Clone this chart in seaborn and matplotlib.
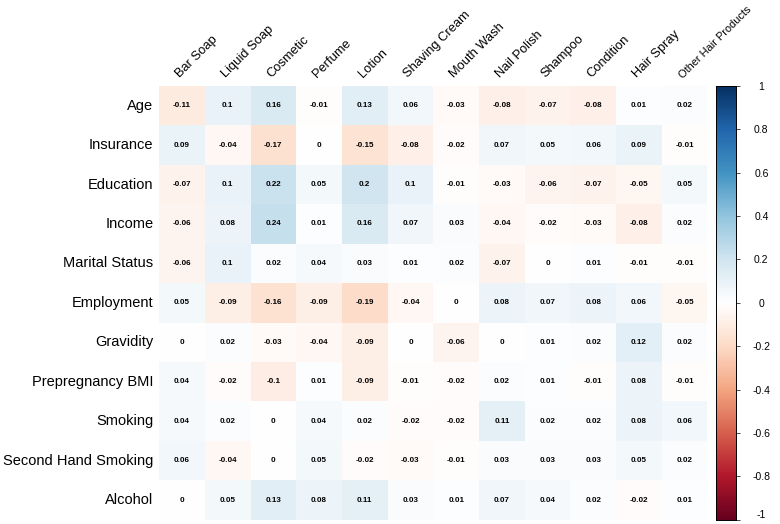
"""
Correlation heatmap: maternal characteristics vs personal care product use.
"""
import matplotlib
matplotlib.use("Agg")
import matplotlib.pyplot as plt
from matplotlib.colors import LinearSegmentedColormap
import seaborn as sns
import pandas as pd

# Row / column categories
row_labels = ["Age", "Insurance", "Education", "Income", "Marital Status",
              "Employment", "Gravidity", "Prepregnancy BMI", "Smoking",
              "Second Hand Smoking", "Alcohol"]
col_labels = ["Bar Soap", "Liquid Soap", "Cosmetic", "Perfume", "Lotion",
              "Shaving Cream", "Mouth Wash", "Nail Polish", "Shampoo",
              "Condition", "Hair Spray", "Other Hair Products"]

# Correlation values, one list per row
age = [-0.11, 0.1, 0.16, -0.01, 0.13, 0.06, -0.03, -0.08, -0.07, -0.08, 0.01, 0.02]
insurance = [0.09, -0.04, -0.17, 0, -0.15, -0.08, -0.02, 0.07, 0.05, 0.06, 0.09, -0.01]
education = [-0.07, 0.1, 0.22, 0.05, 0.2, 0.1, -0.01, -0.03, -0.06, -0.07, -0.05, 0.05]
income = [-0.06, 0.08, 0.24, 0.01, 0.16, 0.07, 0.03, -0.04, -0.02, -0.03, -0.08, 0.02]
marital = [-0.06, 0.1, 0.02, 0.04, 0.03, 0.01, 0.02, -0.07, 0, 0.01, -0.01, -0.01]
employment = [0.05, -0.09, -0.16, -0.09, -0.19, -0.04, 0, 0.08, 0.07, 0.08, 0.06, -0.05]
gravidity = [0, 0.02, -0.03, -0.04, -0.09, 0, -0.06, 0, 0.01, 0.02, 0.12, 0.02]
bmi = [0.04, -0.02, -0.1, 0.01, -0.09, -0.01, -0.02, 0.02, 0.01, -0.01, 0.08, -0.01]
smoking = [0.04, 0.02, 0, 0.04, 0.02, -0.02, -0.02, 0.11, 0.02, 0.02, 0.08, 0.06]
second_hand = [0.06, -0.04, 0, 0.05, -0.02, -0.03, -0.01, 0.03, 0.03, 0.03, 0.05, 0.02]
alcohol = [0, 0.05, 0.13, 0.08, 0.11, 0.03, 0.01, 0.07, 0.04, 0.02, -0.02, 0.01]

cbar_ticks = [-1, -0.8, -0.6, -0.4, -0.2, 0, 0.2, 0.4, 0.6, 0.8, 1]

# corrplot-style red-white-blue palette (white at zero)
palette = ["#67001F", "#B2182B", "#D6604D", "#F4A582", "#FDDBC7", "#FFFFFF",
           "#D1E5F0", "#92C5DE", "#4393C3", "#2166AC", "#053061"]
cmap = LinearSegmentedColormap.from_list("corr_rdbu", palette, N=256)

df = pd.DataFrame([age, insurance, education, income, marital, employment,
                   gravidity, bmi, smoking, second_hand, alcohol],
                  index=row_labels, columns=col_labels)
annot_text = df.map(lambda v: f"{v:g}")

plt.rcParams["font.family"] = ["Liberation Sans", "DejaVu Sans"]

fig = plt.figure(figsize=(7.8, 5.24), dpi=100)
ax = fig.add_axes([0.204, 0.008, 0.703, 0.828])
cax = fig.add_axes([0.918, 0.008, 0.026, 0.828])

sns.heatmap(df, ax=ax, cbar_ax=cax, cmap=cmap, vmin=-1, vmax=1,
            annot=annot_text, fmt="",
            annot_kws={"fontsize": 5.8, "fontweight": "bold", "color": "black"},
            cbar_kws={"ticks": cbar_ticks})

ax.xaxis.tick_top()
ax.set_xticklabels(col_labels, rotation=45, ha="left", rotation_mode="anchor",
                   fontsize=9.3)
# last label is squeezed against the right edge, keep it inside the canvas
ax.get_xticklabels()[-1].set_fontsize(7.9)
ax.set_yticklabels(row_labels, rotation=0, fontsize=10.5)
ax.tick_params(axis="both", length=0, pad=4)
ax.set_xlabel("")
ax.set_ylabel("")

for spine in cax.spines.values():
    spine.set_visible(True)
    spine.set_color("black")
    spine.set_linewidth(0.6)
cax.set_yticklabels([f"{t:g}" for t in cbar_ticks], fontsize=7.5, ha="center")
cax.tick_params(axis="y", length=3, width=0.5, pad=15)
# bottom label would fall off the canvas
cax.get_yticklabels()[0].set_va("bottom")

plt.savefig("out.png", dpi=100)
plt.close()
